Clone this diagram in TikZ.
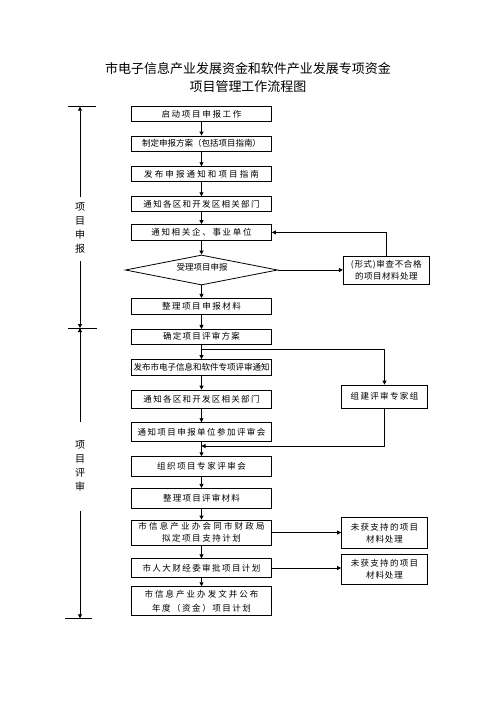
\documentclass[tikz,border=0pt]{standalone}
\usepackage{fontspec}
\setmainfont{Noto Sans CJK SC}
\usetikzlibrary{arrows.meta,shapes.geometric}
\newcommand\ls[1]{\addfontfeature{LetterSpace=#1}}
\begin{document}
\begin{tikzpicture}[x=1pt,y=-1pt,
  line/.style={line width=0.8pt},
  arr/.style={line width=0.8pt,-{Triangle[length=4pt,width=4pt]}},
  box/.style={draw,line width=0.8pt,minimum width=140pt,inner sep=0pt,align=center,font=\fontsize{8.5}{11.7}\selectfont},
  rbox/.style={draw,line width=0.8pt,minimum width=86pt,inner sep=0pt,align=center,font=\fontsize{8.5}{12.2}\selectfont},
  side/.style={align=center,inner sep=0pt,font=\fontsize{10}{14}\selectfont}]
\useasboundingbox (0,0) rectangle (496,702);
\fill[white] (0,0) rectangle (496,702);
% title
\node[align=center,inner sep=0pt,font=\fontsize{13}{18.4}\selectfont] (title) at (248,77.5)
  {市电子信息产业发展资金和软件产业发展专项资金\\项目管理工作流程图};
% main column
\node[box,minimum height=14.3pt] (b1) at (201.5,113.9) {\ls{20}启动项目申报工作};
\node[box,minimum height=15pt] (b2) at (201.5,143.5) {制定申报方案（包括项目指南）};
\node[box,minimum height=15pt] (b3) at (201.5,174.2) {\ls{25}发布申报通知和项目指南};
\node[box,minimum height=15pt] (b4) at (201.5,204.2) {\ls{15}通知各区和开发区相关部门};
\node[box,minimum height=15.7pt] (b5) at (201.5,232.4) {\ls{20}通知相关企、事业单位};
\node[draw,line width=0.8pt,shape=diamond,minimum width=152.3pt,minimum height=30pt,inner sep=0pt] (dia) at (201.5,270) {};
\node[inner sep=0pt,font=\fontsize{8.5}{11}\selectfont] (diat) at (202,267) {受理项目申报};
\node[box,minimum height=15.7pt] (b6) at (201.5,306.2) {\ls{18}整理项目申报材料};
\node[box,minimum height=14.7pt] (b7) at (201.5,336.7) {\ls{15}确定项目评审方案};
\node[box,minimum height=16pt] (b8) at (201.5,367.5) {发布市电子信息和软件专项评审通知};
\node[box,minimum height=18.3pt] (b9) at (201.5,399.2) {\ls{15}通知各区和开发区相关部门};
\node[box,minimum height=19pt] (b10) at (201.5,432.2) {\ls{17}通知项目申报单位参加评审会};
\node[box,minimum height=19.3pt] (b11) at (201.5,466.3) {\ls{18}组织项目专家评审会};
\node[box,minimum height=20pt] (b12) at (201.5,498.3) {\ls{15}整理项目评审材料};
\node[box,minimum height=25pt] (b13) at (201.5,532.5) {{\ls{26}市信息产业办会同市财政局}\\{\ls{18}拟定项目支持计划}};
\node[box,minimum height=18.4pt] (b14) at (201.5,568) {\ls{17}市人大财经委审批项目计划};
\node[box,minimum height=28.3pt,font=\fontsize{8.5}{14}\selectfont] (b15) at (201.5,600.8) {{\ls{24}市信息产业办发文并公布}\\{\ls{18}年度（资金）项目计划}};
% right column
\node[rbox,minimum height=28pt,font=\fontsize{8.5}{11.7}\selectfont] (r1) at (386.3,270) {{\ls{8}(形式)审查不合格}\\{\ls{6}的项目材料处理}};
\node[rbox,minimum height=23.3pt] (r2) at (384.5,396.7) {\ls{16}组建评审专家组};
\node[rbox,minimum height=30.6pt] (r3) at (384.5,533) {{\ls{15}未获支持的项目}\\{\ls{10}材料处理}};
\node[rbox,minimum height=29.7pt] (r4) at (384.5,569.2) {{\ls{15}未获支持的项目}\\{\ls{10}材料处理}};
% main arrows
\draw[arr] (b1) -- (b2);
\draw[arr] (b2) -- (b3);
\draw[arr] (b3) -- (b4);
\draw[arr] (b4) -- (b5);
\draw[arr] (b5) -- (dia);
\draw[arr] (dia) -- (b6);
\draw[arr] (b6) -- (b7);
\draw[arr] (b7) -- (b8);
\draw[arr] (b8) -- (b9);
\draw[arr] (b9) -- (b10);
\draw[arr] (b10) -- (b11);
\draw[arr] (b11) -- (b12);
\draw[arr] (b12) -- (b13);
\draw[arr] (b13) -- (b14);
\draw[arr] (b14) -- (b15);
% side connectors
\draw[arr] (dia.east) -- (r1.west);
\draw[arr] (r1.north) |- (b5.east);
\coordinate (br) at (201.5,349.3);
\draw[arr] (br) -| (r2.north);
\coordinate (jn) at (201.5,446);
\draw[arr] (r2.south) |- (jn);
\draw[arr] (b13.east) -- (b13.east -| r3.west);
\draw[arr] (b14.east) -- (b14.east -| r4.west);
% left brackets
\coordinate (t1) at (68,106.7); \coordinate (t2) at (96,106.7);
\coordinate (m1) at (68,328); \coordinate (m2) at (96.5,328);
\coordinate (e1) at (65,618.3); \coordinate (e2) at (92,618.3);
\draw[line] (t1) -- (t2);
\draw[line] (m1) -- (m2);
\draw[line] (e1) -- (e2);
\node[side] (s1) at (80,227.5) {项\\目\\申\\报};
\node[side] (s2) at (80,466) {项\\目\\评\\审};
\coordinate (a1) at (80,197); \coordinate (a1t) at (80,106.7);
\coordinate (a2) at (80,261); \coordinate (a2t) at (80,328);
\coordinate (a3) at (80,422); \coordinate (a3t) at (80,328);
\coordinate (a4) at (80,511); \coordinate (a4t) at (80,618.3);
\draw[arr] (a1) -- (a1t);
\draw[arr] (a2) -- (a2t);
\draw[arr] (a3) -- (a3t);
\draw[arr] (a4) -- (a4t);
\end{tikzpicture}
\end{document}
